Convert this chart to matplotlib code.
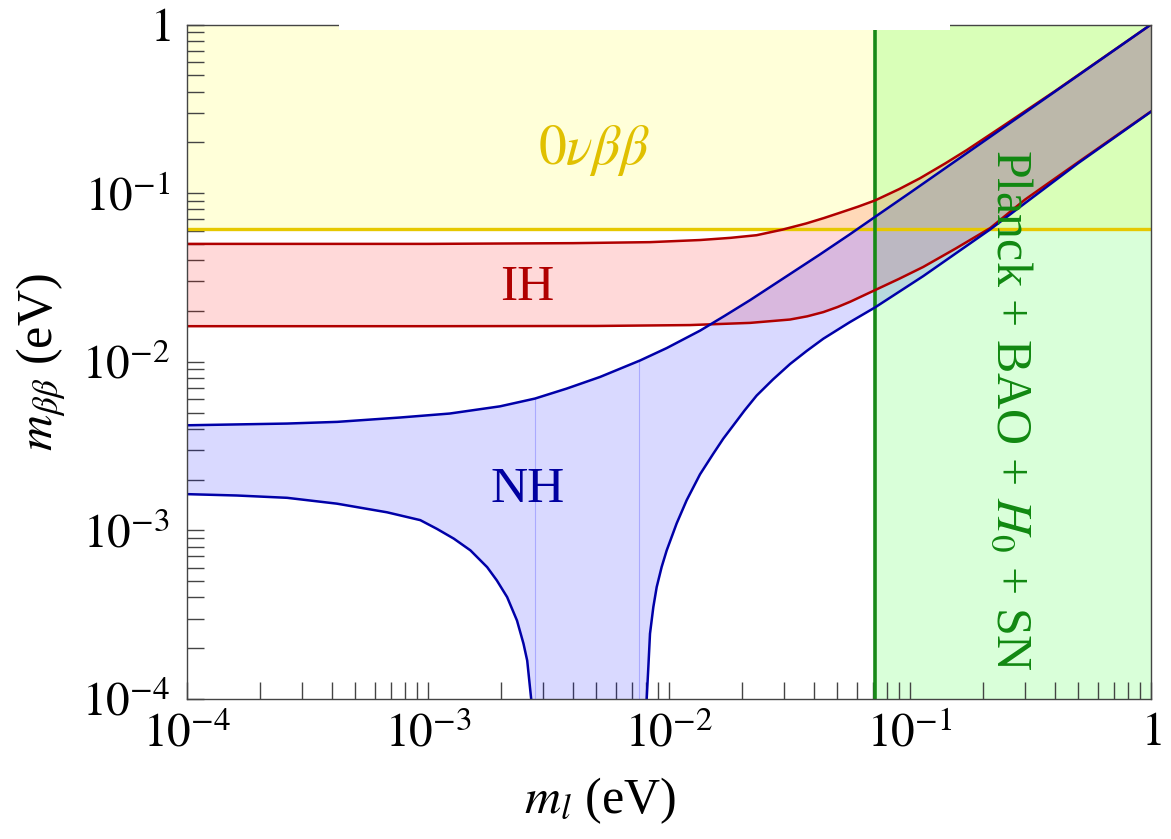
import matplotlib
matplotlib.use("Agg")
import matplotlib.pyplot as plt
from matplotlib.ticker import LogLocator, NullFormatter, FixedLocator, FixedFormatter
from matplotlib.patches import Rectangle

# ===============================
# Values
# ===============================
nh_up_x = [1e-4, 2.6e-4, 4.2e-4, 7.66e-4, 1.23e-3, 1.99e-3, 2.78e-3, 3.76e-3, 5.18e-3,
           7.59e-3, 9.78e-3, 1.345e-2, 1.7e-2, 2.17e-2, 2.98e-2, 4.2e-2, 5.6e-2, 7.16e-2,
           0.1, 0.2, 0.4, 1.0]
nh_up_y = [4.2e-3, 4.3e-3, 4.4e-3, 4.67e-3, 4.93e-3, 5.44e-3, 6.05e-3, 6.93e-3, 8.13e-3,
           1.018e-2, 1.205e-2, 1.529e-2, 1.87e-2, 2.32e-2, 3.12e-2, 4.3e-2, 5.67e-2, 7.23e-2,
           0.1005, 0.2005, 0.4005, 1.0]

# lower NH edge, left branch (falls to zero near 2.8e-3)
nh_lo1_x = [1e-4, 1.61e-4, 2.6e-4, 4.19e-4, 6.76e-4, 9.29e-4, 1.09e-3, 1.28e-3, 1.5e-3,
            1.76e-3, 1.93e-3, 2.13e-3, 2.34e-3, 2.49e-3, 2.58e-3, 2.68e-3, 2.72e-3, 2.76e-3]
nh_lo1_y = [1.64e-3, 1.61e-3, 1.56e-3, 1.44e-3, 1.28e-3, 1.15e-3, 1.02e-3, 8.93e-4, 7.61e-4,
            6.05e-4, 5.05e-4, 4.02e-4, 2.92e-4, 2.13e-4, 1.69e-4, 1.0e-4, 5e-5, 1e-5]
# lower NH edge, right branch (rises from zero near 8e-3)
nh_lo2_x = [8.02e-3, 8.08e-3, 8.21e-3, 8.34e-3, 8.61e-3, 8.89e-3, 9.32e-3, 9.78e-3, 1.076e-2,
            1.184e-2, 1.345e-2, 1.527e-2, 1.68e-2, 1.85e-2, 2.06e-2, 2.31e-2, 2.7e-2, 3.18e-2,
            3.73e-2, 4.37e-2, 5.6e-2, 7.16e-2, 0.1135, 0.215, 0.5, 1.0]
nh_lo2_y = [3e-5, 1.0e-4, 1.55e-4, 2.44e-4, 3.51e-4, 4.61e-4, 6.06e-4, 7.6e-4, 1.1e-3,
            1.51e-3, 2.15e-3, 2.85e-3, 3.5e-3, 4.2e-3, 5.15e-3, 6.3e-3, 7.85e-3, 9.7e-3,
            1.16e-2, 1.37e-2, 1.71e-2, 2.1e-2, 3.22e-2, 6.09e-2, 0.151, 0.304]

ih_up_x = [1e-4, 1e-3, 4e-3, 8.34e-3, 1.345e-2, 1.8e-2, 2.31e-2, 2.95e-2, 3.71e-2, 4.4e-2,
           5.12e-2, 6.1e-2, 7.16e-2, 9.0e-2, 0.110, 0.14, 0.172, 0.236, 0.4, 1.0]
ih_up_y = [0.0500, 0.0500, 0.0505, 0.0512, 0.0527, 0.0543, 0.0563, 0.0607, 0.0661, 0.0712,
           0.0765, 0.0832, 0.0905, 0.1055, 0.1225, 0.150, 0.180, 0.243, 0.403, 1.0]

ih_lo_x = [1e-4, 1e-3, 5e-3, 1.22e-2, 2.17e-2, 3.18e-2, 3.75e-2, 4.37e-2, 5.0e-2, 5.65e-2,
           7.16e-2, 9.0e-2, 0.1135, 0.155, 0.215, 0.3, 0.5, 1.0]
ih_lo_y = [0.01625, 0.01625, 0.0163, 0.0165, 0.0170, 0.0178, 0.0186, 0.0197, 0.0211, 0.0227,
           0.0266, 0.0310, 0.0365, 0.047, 0.062, 0.0915, 0.153, 0.305]

onubb_limit = 0.061      # horizontal 0vbb bound
planck_limit = 0.0716    # vertical cosmology bound
zero_gap = [2.77e-3, 7.53e-3]   # faint mesh lines inside the NH band
zero_gap_top = [0.0061, 0.0101]

tick_vals = [1e-4, 1e-3, 1e-2, 1e-1, 1]
tick_text = [r'$10^{-4}$', r'$10^{-3}$', r'$10^{-2}$', r'$10^{-1}$', r'$1$']

# ===============================
# Style
# ===============================
plt.rcParams['font.family'] = ['Liberation Serif', 'DejaVu Serif']
plt.rcParams['mathtext.fontset'] = 'stix'

yellow_line = '#E6C800'
green_line = '#178A17'
red_line = '#B00000'
blue_line = '#0000A8'

fig = plt.figure(figsize=(11.71, 8.39), dpi=100)
ax = fig.add_axes([187 / 1171, 1 - 699 / 839, 964 / 1171, 674.5 / 839])
ax.set_xscale('log')
ax.set_yscale('log')
ax.set_xlim(1e-4, 1)
ax.set_ylim(1e-4, 1)

# excluded regions
ax.axhspan(onubb_limit, 1, color=(1, 1, 0), alpha=0.15, lw=0, zorder=1)
ax.axvspan(planck_limit, 1, color=(0, 1, 0), alpha=0.15, lw=0, zorder=1)

# IH band
ax.fill(ih_up_x + ih_lo_x[::-1], ih_up_y + ih_lo_y[::-1],
        color=(1, 0, 0), alpha=0.15, lw=0, zorder=2)

# NH band (lower edge is zero inside the gap)
nh_poly_x = nh_up_x + nh_lo2_x[::-1] + [8.0e-3, 2.78e-3] + nh_lo1_x[::-1]
nh_poly_y = nh_up_y + nh_lo2_y[::-1] + [1e-8, 1e-8] + nh_lo1_y[::-1]
ax.fill(nh_poly_x, nh_poly_y, color=(0, 0, 1), alpha=0.15, lw=0, zorder=3)

for gx, gt in zip(zero_gap, zero_gap_top):
    ax.plot([gx, gx], [1e-4, gt], color=(0.55, 0.55, 1.0), lw=0.8, alpha=0.6, zorder=3)

# bounds
ax.axhline(onubb_limit, color=yellow_line, lw=2.4, zorder=4)
ax.axvline(planck_limit, color=green_line, lw=2.6, zorder=4)

# curves
ax.plot(ih_up_x, ih_up_y, color=red_line, lw=1.8, zorder=5)
ax.plot(ih_lo_x, ih_lo_y, color=red_line, lw=1.8, zorder=5)
ax.plot(nh_up_x, nh_up_y, color=blue_line, lw=1.8, zorder=6)
ax.plot(nh_lo1_x, nh_lo1_y, color=blue_line, lw=1.8, zorder=6)
ax.plot(nh_lo2_x, nh_lo2_y, color=blue_line, lw=1.8, zorder=6)

# labels inside
ax.text(4.9e-3, 0.18, r'$0\nu\beta\beta$', color='#E0C000', fontsize=40,
        ha='center', va='center', zorder=7)
ax.text(2.58e-3, 0.0273, 'IH', color='#B00000', fontsize=37,
        ha='center', va='center', zorder=7)
ax.text(2.58e-3, 1.73e-3, 'NH', color='#0000A0', fontsize=37,
        ha='center', va='center', zorder=7)
ax.text(0.26, 5.2e-3, r'Planck + BAO + $H_0$ + SN', color='#118811', fontsize=36,
        rotation=-90, ha='center', va='center', zorder=7)

# axes and ticks
for s in ax.spines.values():
    s.set_color('#444444')
    s.set_linewidth(1.0)
    s.set_zorder(8)

for axis in (ax.xaxis, ax.yaxis):
    axis.set_major_locator(FixedLocator(tick_vals))
    axis.set_major_formatter(FixedFormatter(tick_text))
    axis.set_minor_locator(LogLocator(base=10, subs=range(2, 10), numticks=20))
    axis.set_minor_formatter(NullFormatter())

ax.tick_params(which='both', direction='in', length=12, width=1.0, color='#444444',
               top=False, right=False)
ax.tick_params(axis='x', which='major', labelsize=34, pad=10)
ax.tick_params(axis='y', which='major', labelsize=34, pad=12)

ax.set_xlabel(r'$m_l$ (eV)', fontsize=36)
ax.set_ylabel(r'$m_{\beta\beta}$ (eV)', fontsize=36)
ax.xaxis.set_label_coords(0.428, -0.113)
ax.yaxis.set_label_coords(-0.123, 0.50)

# white strip over the top edge, as in the source image
fig.patches.append(Rectangle((339 / 1171, 1 - 29.5 / 839), (950 - 339) / 1171, 29.5 / 839,
                             transform=fig.transFigure, facecolor='white',
                             edgecolor='none', zorder=20))

fig.savefig('out.png', dpi=100)
